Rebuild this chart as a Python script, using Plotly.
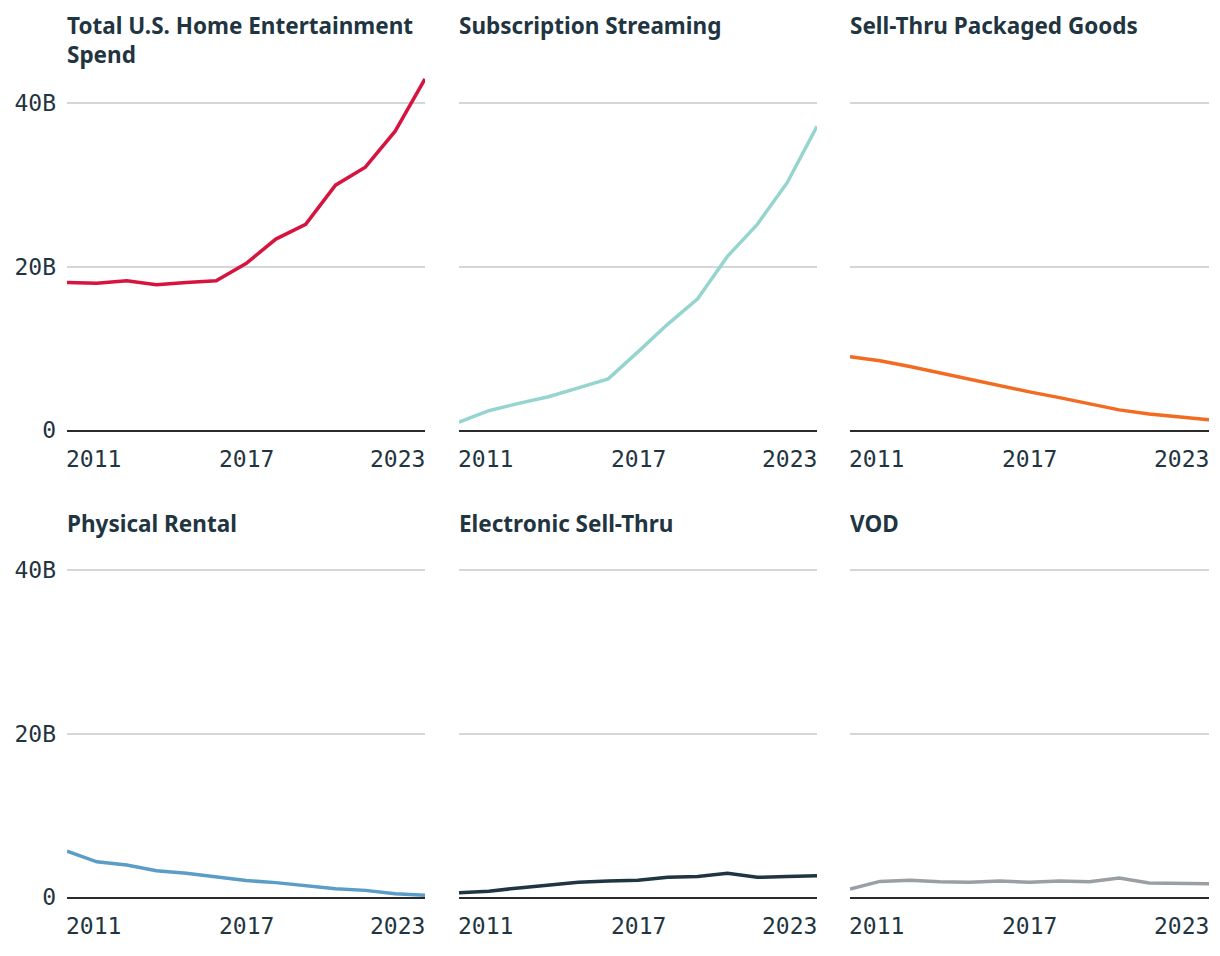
import plotly.graph_objects as go

# ---------------- data (values in billions USD) ----------------
years = list(range(2011, 2024))
titles = [
    "Total U.S. Home Entertainment<br>Spend",
    "Subscription Streaming",
    "Sell-Thru Packaged Goods",
    "Physical Rental",
    "Electronic Sell-Thru",
    "VOD",
]
total_spend = [18.1, 18.0, 18.3, 17.8, 18.1, 18.3, 20.4, 23.4, 25.2, 30.0, 32.2, 36.6, 43.0]
subscription_streaming = [1.0, 2.4, 3.3, 4.1, 5.2, 6.3, 9.6, 13.0, 16.1, 21.3, 25.2, 30.3, 37.2]
sell_thru_packaged = [9.0, 8.5, 7.8, 7.0, 6.2, 5.5, 4.7, 4.0, 3.3, 2.5, 2.0, 1.6, 1.3]
physical_rental = [5.6, 4.3, 3.9, 3.2, 2.9, 2.4, 2.0, 1.75, 1.4, 1.0, 0.8, 0.4, 0.2]
electronic_sell_thru = [0.5, 0.7, 1.1, 1.5, 1.8, 1.95, 2.05, 2.4, 2.5, 2.9, 2.4, 2.5, 2.6]
vod = [0.95, 1.9, 2.05, 1.85, 1.8, 1.95, 1.8, 1.95, 1.85, 2.3, 1.7, 1.6, 1.6]

y_tick_vals = [0, 20, 40]
y_tick_text = ["0", "20B", "40B"]
x_label_years = [2011, 2017, 2023]

series = [total_spend, subscription_streaming, sell_thru_packaged,
          physical_rental, electronic_sell_thru, vod]
colors = ["#d7143f", "#96d5cf", "#f26b21", "#5a9dc7", "#1f3541", "#9a9fa3"]

# ---------------- layout geometry (pixels) ----------------
W, H = 1220, 956
H_EFF, Y_OFF = 943.0, 1.4          # empirical vertical calibration
cols_px = [(67, 425), (459, 817), (850, 1209)]
rows_px = [(79.5, 431.7), (546.5, 898.3)]   # (top, bottom)
Y_MAX = 43.1

TEXT = "#1f3541"
GRID = "#d3d7da"
AXIS = "#2b2b2b"
MONO = "DejaVu Sans Mono"
SANS = "Noto Sans"
MONO_SIZE = 23


def px_x(p):
    return p / W


def px_y(p):
    return 1 - (p - Y_OFF) / H_EFF


fig = go.Figure()
annotations = []
layout_axes = {}

for i, (vals, col, title) in enumerate(zip(series, colors, titles)):
    r, c = divmod(i, 3)
    n = i + 1
    xname = "x" if n == 1 else f"x{n}"
    yname = "y" if n == 1 else f"y{n}"
    xkey = "xaxis" if n == 1 else f"xaxis{n}"
    ykey = "yaxis" if n == 1 else f"yaxis{n}"
    x0, x1 = cols_px[c]
    top, bot = rows_px[r]

    fig.add_trace(go.Scatter(
        x=years, y=vals, mode="lines",
        line=dict(color=col, width=3.5),
        xaxis=xname, yaxis=yname, showlegend=False,
        hovertemplate="%{x}: %{y:.1f}B<extra></extra>",
    ))

    layout_axes[xkey] = dict(
        domain=[px_x(x0), px_x(x1)], anchor=yname,
        range=[years[0], years[-1]],
        showgrid=False, zeroline=False,
        showline=True, linecolor=AXIS, linewidth=2,
        showticklabels=False, ticks="",
    )
    layout_axes[ykey] = dict(
        domain=[px_y(bot), px_y(top)], anchor=xname,
        range=[0, Y_MAX],
        tickvals=y_tick_vals, ticktext=y_tick_text,
        showticklabels=(c == 0),
        tickfont=dict(family=MONO, size=MONO_SIZE, color=TEXT),
        ticks="", ticklabelstandoff=10,
        showgrid=True, gridcolor=GRID, gridwidth=1.5,
        zeroline=False, showline=False,
    )

    # panel title
    annotations.append(dict(
        text=f"<b>{title}</b>", xref="paper", yref="paper",
        x=px_x(x0 - 2), y=px_y(9 if r == 0 else 507),
        xanchor="left", yanchor="top", align="left", showarrow=False,
        font=dict(family=SANS, size=22.5, color=TEXT),
    ))

    # x-axis year labels (first left-aligned, middle centred, last right-aligned)
    anchors = ["left", "center", "right"]
    shifts = [-3, 0, 2]
    for yr, anc, sh in zip(x_label_years, anchors, shifts):
        annotations.append(dict(
            text=str(yr), xref=xname, yref="paper",
            x=yr, y=px_y(bot + 29), xanchor=anc, yanchor="middle",
            xshift=sh, showarrow=False,
            font=dict(family=MONO, size=MONO_SIZE, color=TEXT),
        ))

fig.update_layout(
    width=W, height=H,
    margin=dict(l=0, r=0, t=0, b=0),
    paper_bgcolor="white", plot_bgcolor="white",
    annotations=annotations,
    **layout_axes,
)

fig.write_html("out.html")
